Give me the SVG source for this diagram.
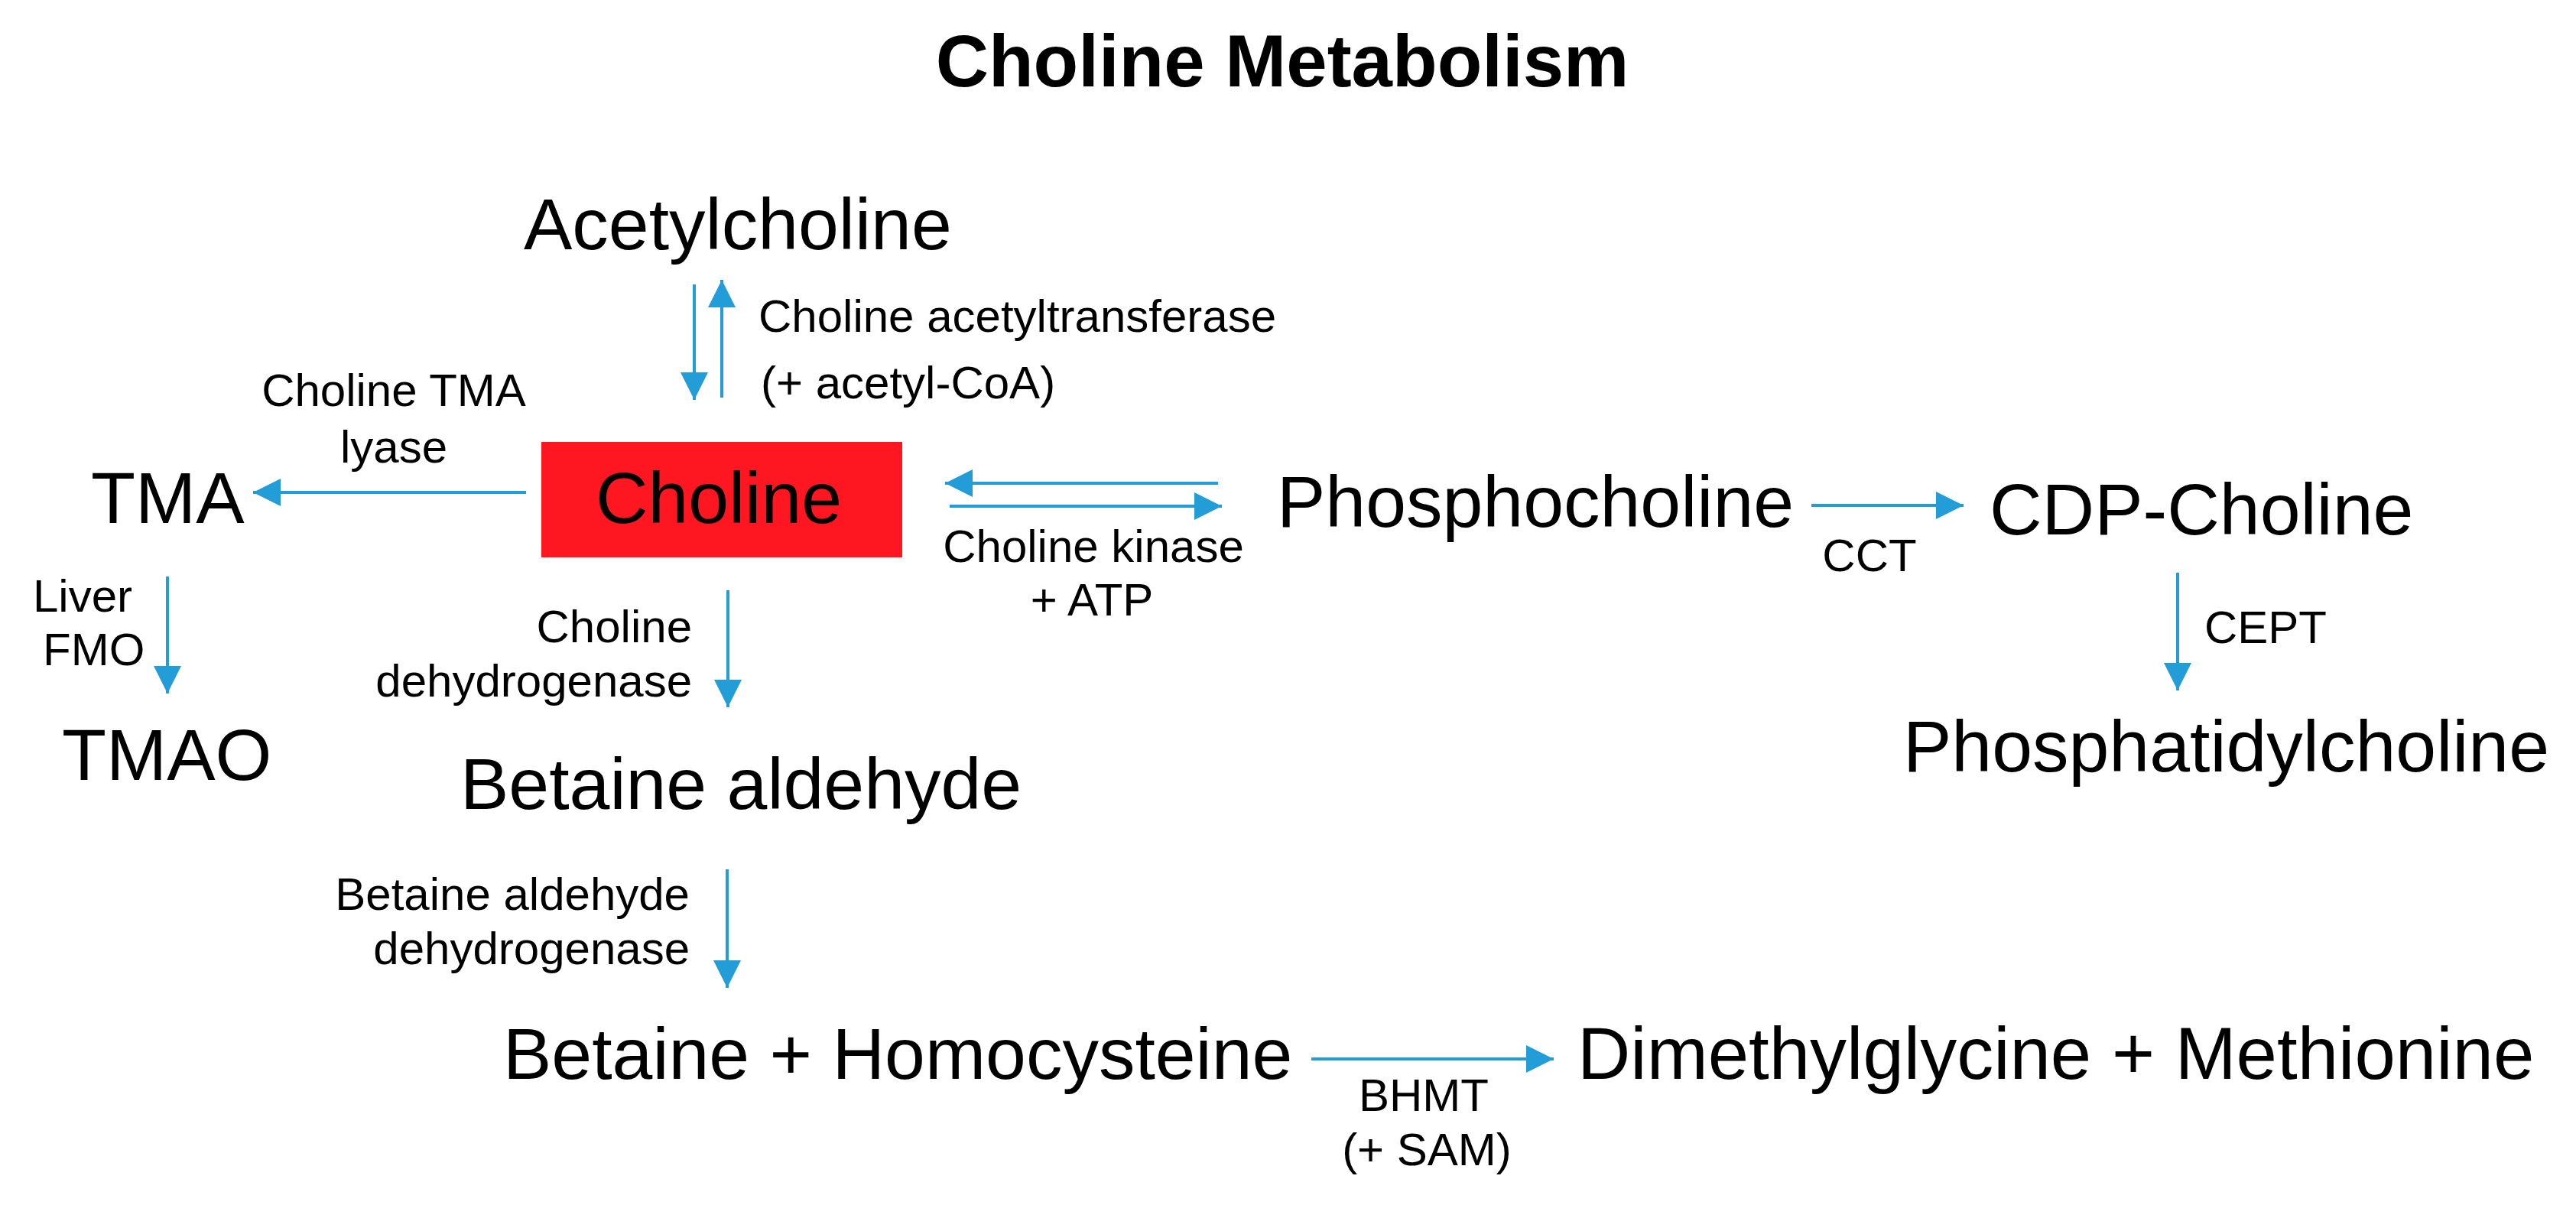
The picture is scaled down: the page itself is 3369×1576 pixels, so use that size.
<svg xmlns="http://www.w3.org/2000/svg" width="3369" height="1576" viewBox="0 0 3369 1576">
<style>
text{font-family:"Liberation Sans",Arial,sans-serif;fill:#000}
.t{font-size:96px;font-weight:bold}
.b{font-size:95px}
.s{font-size:60px}
.m{text-anchor:middle}
.e{text-anchor:end}
.c line{stroke:#229dd8;stroke-width:4;fill:none;marker-end:url(#ah)}
</style>
<defs>
<marker id="ah" markerUnits="userSpaceOnUse" markerWidth="36" markerHeight="36" viewBox="0 0 36 36" refX="36" refY="18" orient="auto">
<path d="M0,0 L36,18 L0,36 Z" fill="#229dd8"/>
</marker>
</defs>
<rect width="3369" height="1576" fill="#fff"/>
<text class="t m" x="1677" y="113">Choline Metabolism</text>
<g class="c" id="connectors">
<line x1="908" y1="372" x2="908" y2="523"/>
<line x1="944" y1="520" x2="944" y2="366"/>
<line x1="688" y1="644" x2="331" y2="644"/>
<line x1="1593" y1="632" x2="1236" y2="632"/>
<line x1="1242" y1="662" x2="1598" y2="662"/>
<line x1="2369" y1="661" x2="2568" y2="661"/>
<line x1="2848" y1="749" x2="2848" y2="903"/>
<line x1="219" y1="754" x2="219" y2="907"/>
<line x1="952" y1="772" x2="952" y2="925"/>
<line x1="951" y1="1137" x2="951" y2="1292"/>
<line x1="1715" y1="1385" x2="2032" y2="1385"/>
</g>
<g id="labels">
<text class="s" x="992" y="434">Choline acetyltransferase</text>
<text class="s" x="995" y="521">(+ acetyl-CoA)</text>
<text class="s m" x="515" y="531">Choline TMA</text>
<text class="s m" x="515" y="605">lyase</text>
<text class="s m" x="1430" y="735">Choline kinase</text>
<text class="s m" x="1428" y="805">+ ATP</text>
<text class="s m" x="2445" y="747">CCT</text>
<text class="s" x="2883" y="841">CEPT</text>
<text class="s" x="43" y="800">Liver</text>
<text class="s" x="56" y="870">FMO</text>
<text class="s e" x="905" y="840">Choline</text>
<text class="s e" x="905" y="911">dehydrogenase</text>
<text class="s e" x="902" y="1190">Betaine aldehyde</text>
<text class="s e" x="902" y="1261">dehydrogenase</text>
<text class="s m" x="1862" y="1453">BHMT</text>
<text class="s m" x="1866" y="1524">(+ SAM)</text>
</g>
<g id="acetylcholine"><text class="b" x="685" y="326">Acetylcholine</text></g>
<g id="choline"><rect x="708" y="578" width="472" height="151" fill="#fe1620"/><text class="b m" x="940" y="684">Choline</text></g>
<g id="tma"><text class="b" x="119" y="684">TMA</text></g>
<g id="tmao"><text class="b" x="81" y="1020">TMAO</text></g>
<g id="phosphocholine"><text class="b" x="1670" y="689">Phosphocholine</text></g>
<g id="cdp-choline"><text class="b" x="2602" y="699">CDP-Choline</text></g>
<g id="phosphatidylcholine"><text class="b" x="2489" y="1009">Phosphatidylcholine</text></g>
<g id="betaine-aldehyde"><text class="b" x="602" y="1058">Betaine aldehyde</text></g>
<g id="betaine-homocysteine"><text class="b" x="658" y="1411">Betaine + Homocysteine</text></g>
<g id="dmg-methionine"><text class="b" x="2063" y="1411" style="font-size:96px">Dimethylglycine + Methionine</text></g>
</svg>
